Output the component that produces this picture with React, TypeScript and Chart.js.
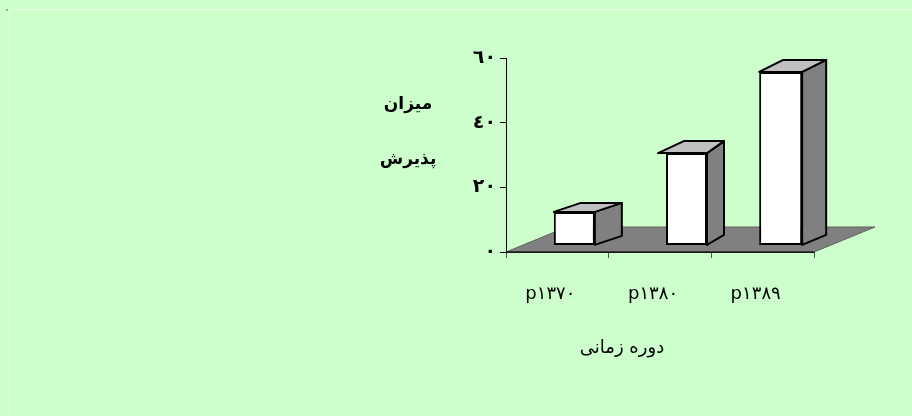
import React, { useEffect, useRef } from "react";
import { Chart, registerables } from "chart.js";

Chart.register(...registerables);

const categories = ["p١٣٧٠", "p١٣٨٠", "p١٣٨٩"];
const barBase = [2.2, 2.2, 2.2];
const barTop = [12.4, 30.6, 55.7];
const yTickLabels: Record<number, string> = { 0: "٠", 20: "٢٠", 40: "٤٠", 60: "٦٠" };
const yTitleLines = ["میزان", "پذیرش"];
const xTitle = "دوره زمانی";

const barShift = [17, 26.5, 18];
const barWidths = [41, 41, 43];
const depthX = [27, 17, 24];
const depthY = [9, 12, 12];
const overhang = [0, 8, 0];

const poly = (ctx: CanvasRenderingContext2D, pts: number[][], fill: string, stroke: string, lw: number) => {
  ctx.beginPath();
  pts.forEach((p, i) => (i ? ctx.lineTo(p[0], p[1]) : ctx.moveTo(p[0], p[1])));
  ctx.closePath();
  ctx.fillStyle = fill;
  ctx.fill();
  ctx.strokeStyle = stroke;
  ctx.lineWidth = lw;
  ctx.lineJoin = "round";
  ctx.stroke();
};

const pseudo3d = {
  id: "pseudo3d",
  afterDatasetsUpdate(chart: any) {
    const meta = chart.getDatasetMeta(0);
    meta.data.forEach((el: any, i: number) => {
      el.x += barShift[i];
      el.width = barWidths[i];
    });
  },
  beforeDatasetsDraw(chart: any) {
    const { ctx, chartArea: a } = chart;
    const meta = chart.getDatasetMeta(0);
    ctx.save();
    poly(
      ctx,
      [[a.left, a.bottom], [a.right, a.bottom], [a.right + 61, a.bottom - 25], [a.left + 61, a.bottom - 25]],
      "#808080",
      "#606060",
      1
    );
    ctx.beginPath();
    ctx.moveTo(a.left, a.bottom);
    ctx.lineTo(a.right, a.bottom);
    ctx.strokeStyle = "#000";
    ctx.lineWidth = 1;
    ctx.stroke();
    meta.data.forEach((el: any, i: number) => {
      const l = el.x - el.width / 2;
      const r = el.x + el.width / 2;
      const t = el.y;
      const b = el.base;
      const dx = depthX[i];
      const dy = depthY[i];
      poly(ctx, [[r, t], [r + dx, t - dy], [r + dx, b - Math.min(dy, 10)], [r, b]], "#808080", "#000", 2);
      poly(ctx, [[l - overhang[i], t], [r, t], [r + dx, t - dy], [l + dx + overhang[i] * 0.1, t - dy]], "#C0C0C0", "#000", 2);
    });
    ctx.restore();
  },
  afterDraw(chart: any) {
    const { ctx } = chart;
    ctx.save();
    ctx.textAlign = "center";
    ctx.textBaseline = "middle";
    ctx.fillStyle = "#000";
    ctx.font = "bold 17px 'DejaVu Sans'";
    ctx.fillText(yTitleLines[0], 408, 105);
    ctx.fillText(yTitleLines[1], 408, 160);
    ctx.font = "18px 'DejaVu Sans'";
    ctx.fillText(xTitle, 622, 348);
    ctx.restore();
  },
};

export default function App() {
  const ref = useRef<HTMLCanvasElement>(null);
  useEffect(() => {
    document.body.style.margin = "0";
    document.body.style.background = "#CCFFCC";
    const chart = new Chart(ref.current!, {
      type: "bar",
      data: {
        labels: categories,
        datasets: [
          {
            data: barTop.map((v, i) => [barBase[i], v]) as any,
            backgroundColor: "#FFFFFF",
            borderColor: "#000000",
            borderWidth: 2,
            borderSkipped: false,
          },
        ],
      },
      options: {
        animation: false,
        responsive: false,
        layout: { padding: { left: 446, right: 98, top: 58, bottom: 104 } } as any,
        plugins: { legend: { display: false }, tooltip: { enabled: false } },
        scales: {
          x: {
            offset: true,
            border: { color: "#000", width: 1 },
            grid: { offset: true, drawOnChartArea: false, drawTicks: true, tickLength: 6, tickColor: "#555" },
            afterFit(scale: any) {
              scale.height = 60;
            },
            ticks: {
              color: "#000",
              padding: 26,
              labelOffset: -7,
              maxRotation: 0,
              font: { family: "'DejaVu Sans'", size: 18 },
            },
          },
          y: {
            min: 0,
            max: 60,
            border: { color: "#000", width: 1 },
            grid: { drawOnChartArea: false, tickLength: 6, tickColor: "#000" },
            afterFit(scale: any) {
              scale.width = 60;
            },
            ticks: {
              stepSize: 20,
              color: "#000",
              padding: 4,
              font: { family: "'DejaVu Sans'", size: 19, weight: "bold" },
              callback: (v: any) => yTickLabels[v as number] ?? "",
            },
          },
        },
      },
      plugins: [pseudo3d as any],
    });
    return () => chart.destroy();
  }, []);
  return (
    <div style={{ width: 912, height: 416, position: "relative", background: "#CCFFCC", overflow: "hidden" }}>
      <div style={{ position: "absolute", left: 9, top: 9, width: 903, height: 407, borderLeft: "1px solid #E4FFE4", borderTop: "1px solid #E4FFE4" }} />
      <div style={{ position: "absolute", left: 6, top: 9, width: 2, height: 2, background: "#8FAF8F" }} />
      <canvas ref={ref} width={912} height={416} style={{ position: "absolute", left: 0, top: 0, display: "block" }} />
    </div>
  );
}
